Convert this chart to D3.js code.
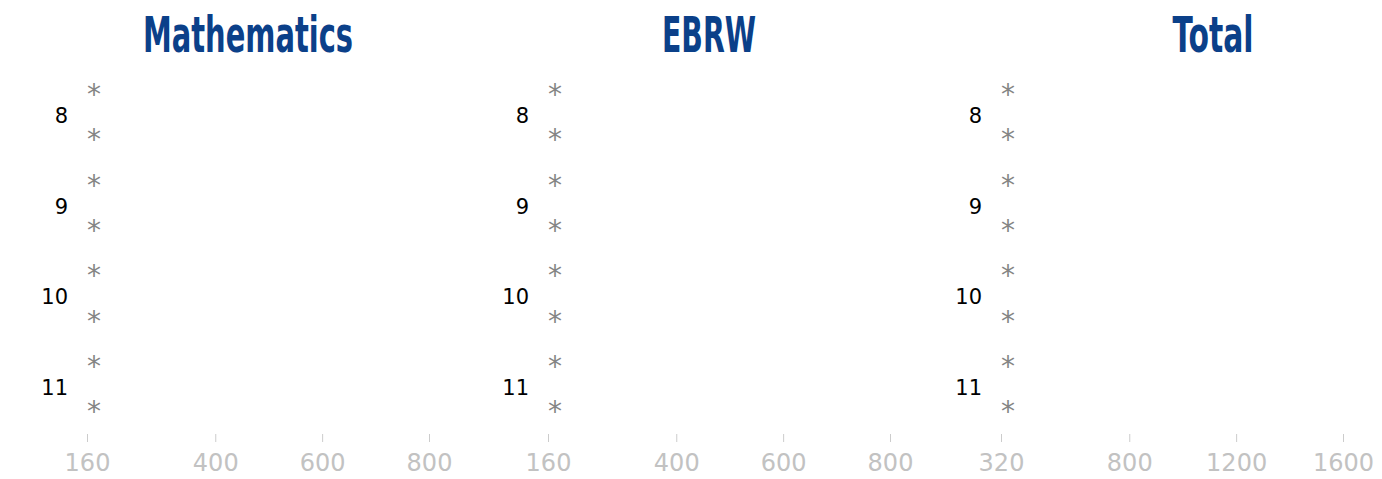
<!DOCTYPE html>
<html>
<head>
<meta charset="utf-8">
<script src="https://cdn.jsdelivr.net/npm/d3@7"></script>
<style>
  body { margin: 0; background: #fff; }
  svg { display: block; }
  .title { font-family: "Liberation Sans Narrow", "DejaVu Sans Condensed", sans-serif; font-weight: bold; fill: #0b4089; }
  .grade { font-family: "DejaVu Sans", sans-serif; font-size: 21px; fill: #000; }
  .x-axis text { font-family: "DejaVu Sans", sans-serif; font-size: 24px; fill: #c2c2c2; }
  .x-axis line { stroke: #cccccc; }
  .star { font-family: "DejaVu Sans", sans-serif; font-size: 28px; fill: #858585; }
</style>
</head>
<body>
<svg id="chart" width="1382" height="479"></svg>
<script>
// grades and the two rows shown for each grade
const grades = [8, 9, 10, 11];
const groups = ["School", "District"];

// panel titles and their tick labels
const subjects = ["Mathematics", "EBRW", "Total"];
const tickValues = [[160, 400, 600, 800], [160, 400, 600, 800], [320, 800, 1200, 1600]];
const domains = [[160, 800], [160, 800], [320, 1600]];

// mean scores per grade / group (null = suppressed, shown as *)
const mathValues = [[null, null], [null, null], [null, null], [null, null]];
const ebrwValues = [[null, null], [null, null], [null, null], [null, null]];
const totalValues = [[null, null], [null, null], [null, null], [null, null]];
const allValues = [mathValues, ebrwValues, totalValues];

// layout (pixels)
const ranges = [[87, 429], [548, 890], [1001, 1343]];
const titleX = [248, 709, 1213];
const titleWidth = [210, 94, 81];

const svg = d3.select("#chart");

const yScale = d3.scaleBand().domain(grades).range([70, 432.7]);
const ySub = d3.scaleBand().domain(groups).range([0, yScale.bandwidth()]);

subjects.forEach(function(name, p) {
    const xScale = d3.scaleLinear().domain(domains[p]).range(ranges[p]);
    const g = svg.append("g").attr("class", "panel");

    g.append("text")
        .attr("class", "title")
        .attr("x", titleX[p])
        .attr("y", 52)
        .attr("text-anchor", "middle")
        .attr("font-size", 49)
        .attr("textLength", titleWidth[p])
        .attr("lengthAdjust", "spacingAndGlyphs")
        .text(name);

    const xAxis = d3.axisBottom(xScale)
        .tickValues(tickValues[p])
        .tickSize(8)
        .tickPadding(12)
        .tickFormat(d3.format("d"));

    g.append("g")
        .attr("class", "x-axis")
        .attr("transform", "translate(0,434)")
        .call(xAxis)
        .call(a => a.select(".domain").remove());

    g.selectAll(".grade")
        .data(grades)
        .enter().append("text")
            .attr("class", "grade")
            .attr("x", xScale.range()[0] - 19)
            .attr("y", d => yScale(d) + yScale.bandwidth() / 2)
            .attr("dy", "0.36em")
            .attr("text-anchor", "end")
            .text(d => d);

    const points = [];
    grades.forEach(function(gr, i) {
        groups.forEach(function(grp, j) {
            points.push({grade: gr, group: grp, value: allValues[p][i][j]});
        });
    });

    g.selectAll(".star")
        .data(points)
        .enter().append("text")
            .attr("class", "star")
            .attr("x", d => xScale(d.value == null ? domains[p][0] : d.value))
            .attr("y", d => yScale(d.grade) + ySub(d.group) + ySub.bandwidth() / 2)
            .attr("dy", "0.4em")
            .text("*");
});
</script>
</body>
</html>
